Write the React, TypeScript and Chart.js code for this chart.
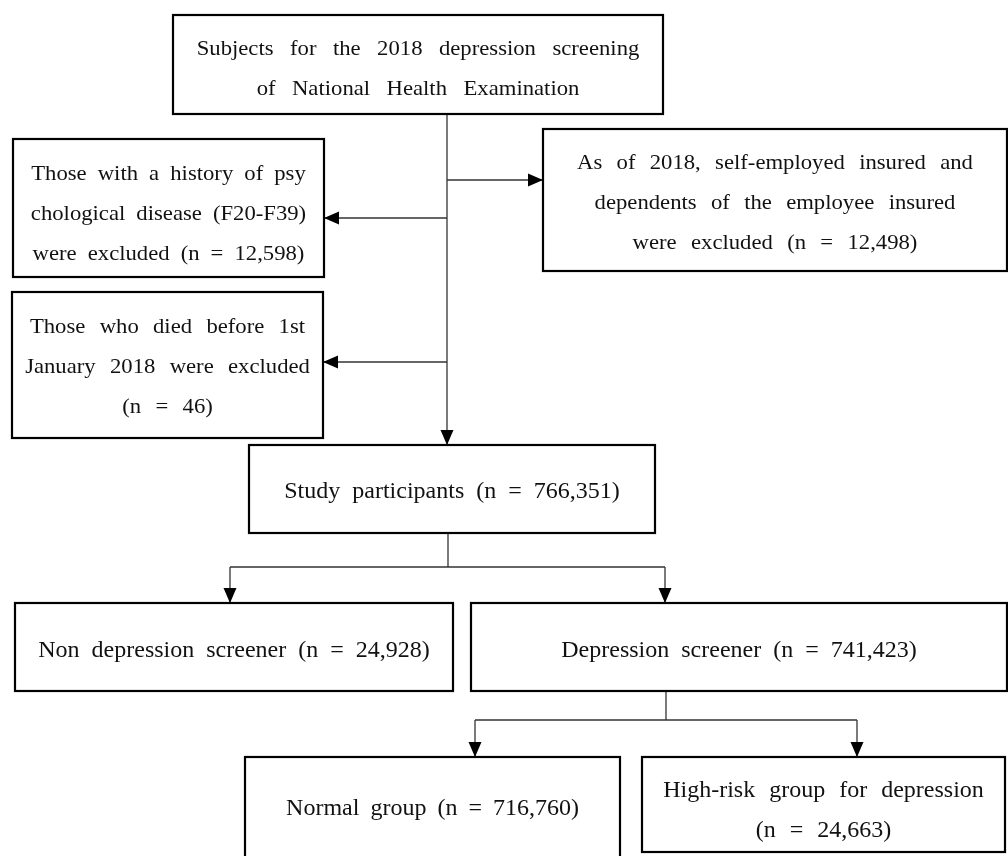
import React, { useEffect, useRef } from "react";
import { Chart, registerables } from "chart.js";

Chart.register(...registerables);

// ---- Flowchart content (text) ----
const nodeIds = ["source", "excl1", "excl2", "excl3", "study", "nonDep", "dep", "normal", "highRisk"];
const nodeText: string[][] = [
  ["Subjects for the 2018 depression screening", "of National Health Examination"],
  ["Those with a history of psy", "chological disease (F20-F39)", "were excluded (n = 12,598)"],
  ["Those who died before 1st", "January 2018 were excluded", "(n = 46)"],
  ["As of 2018, self-employed insured and", "dependents of the employee insured", "were excluded (n = 12,498)"],
  ["Study participants (n = 766,351)"],
  ["Non depression screener (n = 24,928)"],
  ["Depression screener (n = 741,423)"],
  ["Normal group (n = 716,760)"],
  ["High-risk group for depression", "(n = 24,663)"],
];
const nodeCounts = [null, 12598, 46, 12498, 766351, 24928, 741423, 716760, 24663];

// ---- Layout (data units on hidden linear scales 0..1008 x 0..856) ----
const boxX0 = [173, 13, 12, 543, 249, 15, 471, 245, 642];
const boxY0 = [15, 139, 292, 129, 445, 603, 603, 757, 757];
const boxX1 = [663, 324, 323, 1007, 655, 453, 1007, 620, 1005];
const boxY1 = [114, 277, 438, 271, 533, 691, 691, 880, 852];
const textCenterY = [69, 214, 367, 203, 492, 651, 651, 809, 811];
const fontPx = [21, 21, 21, 21, 24, 24, 24, 24, 24];
const wordGap = [10, 5, 8, 8, 6, 6, 6, 5, 8];
const xStretch = [1.08, 1.08, 1.08, 1.08, 1, 1, 1, 1, 1];

// connectors: polylines [x,y,...]
const connectorPts: number[][] = [
  [447, 114, 447, 445],
  [447, 180, 543, 180],
  [447, 218, 324, 218],
  [447, 362, 323, 362],
  [448, 533, 448, 567],
  [230, 567, 665, 567],
  [230, 567, 230, 603],
  [665, 567, 665, 603],
  [666, 691, 666, 720],
  [475, 720, 857, 720],
  [475, 720, 475, 757],
  [857, 720, 857, 757],
];
const connectorArrow = [true, true, true, true, false, false, true, true, false, false, true, true];

const flowPlugin = {
  id: "flow",
  afterDraw(chart: any) {
    const ctx: CanvasRenderingContext2D = chart.ctx;
    const sx = chart.scales.x;
    const sy = chart.scales.y;
    const px = (v: number) => sx.getPixelForValue(v);
    const py = (v: number) => sy.getPixelForValue(v);
    ctx.save();
    ctx.fillStyle = "#ffffff";
    ctx.fillRect(0, 0, chart.width, chart.height);

    // connectors
    connectorPts.forEach((pts, i) => {
      ctx.strokeStyle = "#333333";
      ctx.lineWidth = 1.3;
      ctx.beginPath();
      for (let k = 0; k < pts.length; k += 2) {
        const X = px(pts[k]);
        const Y = py(pts[k + 1]);
        if (k === 0) ctx.moveTo(X, Y);
        else ctx.lineTo(X, Y);
      }
      ctx.stroke();
      if (connectorArrow[i]) {
        const n = pts.length;
        const x2 = px(pts[n - 2]), y2 = py(pts[n - 1]);
        const x1 = px(pts[n - 4]), y1 = py(pts[n - 3]);
        const ang = Math.atan2(y2 - y1, x2 - x1);
        const L = 15, W = 6.5;
        ctx.fillStyle = "#000000";
        ctx.beginPath();
        ctx.moveTo(x2, y2);
        ctx.lineTo(x2 - L * Math.cos(ang) - W * Math.sin(ang), y2 - L * Math.sin(ang) + W * Math.cos(ang));
        ctx.lineTo(x2 - L * Math.cos(ang) + W * Math.sin(ang), y2 - L * Math.sin(ang) - W * Math.cos(ang));
        ctx.closePath();
        ctx.fill();
      }
    });

    // boxes
    nodeIds.forEach((id, i) => {
      const x0 = px(boxX0[i]), x1 = px(boxX1[i]);
      const y0 = py(boxY0[i]), y1 = py(boxY1[i]);
      ctx.fillStyle = "#ffffff";
      ctx.fillRect(x0, y0, x1 - x0, y1 - y0);
      ctx.strokeStyle = "#000000";
      ctx.lineWidth = 2.2;
      ctx.strokeRect(x0, y0, x1 - x0, y1 - y0);

      const lines = nodeText[i];
      const lh = 40;
      const cx = (x0 + x1) / 2;
      const cy = py(textCenterY[i]);
      ctx.fillStyle = "#111111";
      ctx.textAlign = "center";
      ctx.textBaseline = "middle";
      ctx.font = `${fontPx[i]}px 'Liberation Serif'`;
      (ctx as any).wordSpacing = `${wordGap[i]}px`;
      lines.forEach((ln, j) => {
        const y = cy + (j - (lines.length - 1) / 2) * lh;
        ctx.save();
        ctx.translate(cx, y);
        ctx.scale(xStretch[i], 1);
        ctx.fillText(ln, 0, 0);
        ctx.restore();
      });
      (ctx as any).wordSpacing = "0px";
    });
    ctx.restore();
  },
};

export default function App() {
  const ref = useRef<HTMLCanvasElement | null>(null);
  useEffect(() => {
    document.body.style.margin = "0";
    const canvas = ref.current;
    if (!canvas) return;
    const chart = new Chart(canvas, {
      type: "scatter",
      data: {
        datasets: [
          {
            label: "nodes",
            data: nodeIds.map((_, i) => ({ x: (boxX0[i] + boxX1[i]) / 2, y: textCenterY[i], n: nodeCounts[i] } as any)),
            pointRadius: 0,
            showLine: false,
          },
        ],
      },
      options: {
        responsive: false,
        animation: false,
        layout: { padding: 0 },
        scales: {
          x: { type: "linear", min: 0, max: 1008, display: false },
          y: { type: "linear", min: 0, max: 856, reverse: true, display: false },
        },
        plugins: { legend: { display: false }, tooltip: { enabled: false } },
      },
      plugins: [flowPlugin],
    });
    return () => chart.destroy();
  }, []);
  return <canvas ref={ref} width={1008} height={856} style={{ display: "block" }} />;
}
